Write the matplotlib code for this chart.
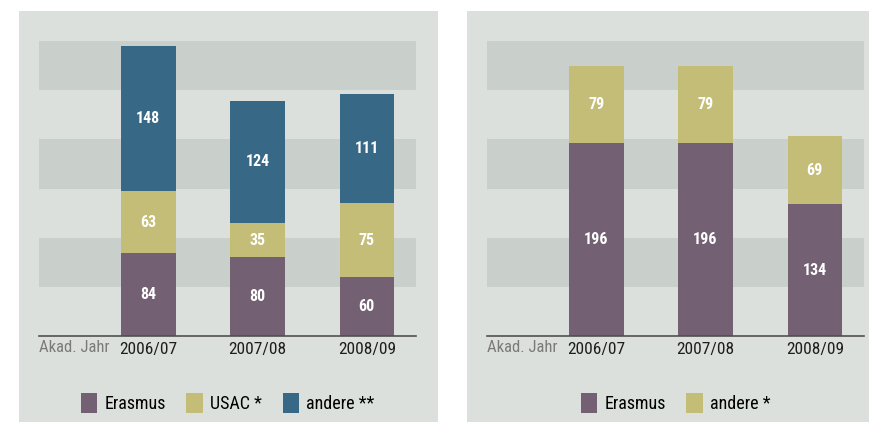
import matplotlib.pyplot as plt
from matplotlib.patches import Rectangle
from matplotlib import font_manager
from matplotlib.font_manager import FontProperties

years = ["2006/07", "2007/08", "2008/09"]

# left panel
erasmus_out = [84, 80, 60]
usac_out = [63, 35, 75]
andere_out = [148, 124, 111]

# right panel
erasmus_in = [196, 196, 134]
andere_in = [79, 79, 69]

c_erasmus = "#736173"
c_usac = "#c3bd78"
c_andere = "#376886"
bg_light = "#dbe0dc"
bg_dark = "#c9cfcb"


def find_font(bold):
    # look for some condensed / narrow face among the installed files
    files = [f.fname for f in font_manager.fontManager.ttflist]
    prefs = ["LiberationSansNarrow", "RobotoCondensed", "OpenSans_Condensed",
             "OpenSansCondensed", "OpenSans-Condensed", "DejaVuSansCondensed"]
    for p in prefs:
        for f in sorted(files):
            base = f.split("/")[-1].replace(" ", "")
            if p.lower() in base.lower() and "italic" not in base.lower() \
                    and "oblique" not in base.lower():
                isbold = "bold" in base.lower()
                if bold == isbold and "semi" not in base.lower() \
                        and "light" not in base.lower() and "medium" not in base.lower() \
                        and "extra" not in base.lower():
                    return FontProperties(fname=f)
    return FontProperties(family="DejaVu Sans", stretch="condensed",
                          weight="bold" if bold else "normal")


fp = find_font(False)
fpb = find_font(True)
fpl = fp.copy()
fpl.set_size(13)

W, H = 870, 422
fig = plt.figure(figsize=(W / 100, H / 100), dpi=100)
fig.patch.set_facecolor("white")

def px(x0, y0, x1, y1):
    # pixel box (top-left origin) -> figure fraction
    return [x0 / W, 1 - y1 / H, (x1 - x0) / W, (y1 - y0) / H]

for x0, x1 in [(19, 438), (467, 869)]:
    b = px(x0, 11, x1, 422)
    fig.patches.append(Rectangle((b[0], b[1]), b[2], b[3], transform=fig.transFigure,
                                 facecolor=bg_light, edgecolor="none", zorder=-1))


def panel(box, series, colors, labels):
    ax = fig.add_axes(px(*box))
    ax.set_zorder(2)
    ax.set_facecolor("none")
    ax.set_xlim(-1.0, 2.45)
    ax.set_ylim(0, 300)
    for lo in (50, 150, 250):
        ax.axhspan(lo, lo + 50, color=bg_dark, lw=0, zorder=0)
    x = range(len(years))
    bottom = [0] * len(years)
    for vals, col, lab in zip(series, colors, labels):
        bars = ax.bar(x, vals, 0.5, bottom=bottom, color=col, label=lab, zorder=2)
        lbls = ax.bar_label(bars, label_type="center", color="white")
        for t in lbls:
            t.set_fontproperties(fpb)
            t.set_fontsize(11.5)
        bottom = [b + v for b, v in zip(bottom, vals)]
    for s in ["top", "right", "left"]:
        ax.spines[s].set_visible(False)
    ax.spines["bottom"].set_color("#505050")
    ax.spines["bottom"].set_linewidth(1.2)
    ax.spines["bottom"].set_zorder(3)
    ax.set_yticks([])
    ax.set_xticks(list(x))
    ax.set_xticklabels(years, color="#1e1e1e")
    for t in ax.get_xticklabels():
        t.set_fontproperties(fp)
        t.set_fontsize(12.5)
    ax.tick_params(axis="x", length=0, pad=4.5)
    ax.text(0, -0.0152, "Akad. Jahr", transform=ax.transAxes, fontproperties=fp,
            fontsize=12, color="#7a7a7a", ha="left", va="top")
    ax.legend(loc="center", bbox_to_anchor=(0.5, -0.228), ncol=len(labels),
              frameon=False, prop=fpl, handlelength=0.9, handleheight=1.3,
              handletextpad=0.4, columnspacing=1.15, borderpad=0.1)
    return ax


panel((39, 41, 416, 336), [erasmus_out, usac_out, andere_out],
      [c_erasmus, c_usac, c_andere], ["Erasmus", "USAC *", "andere **"])
panel((487, 41, 864, 336), [erasmus_in, andere_in],
      [c_erasmus, c_usac], ["Erasmus", "andere *"])

fig.savefig("out.png", dpi=100, facecolor="white")
